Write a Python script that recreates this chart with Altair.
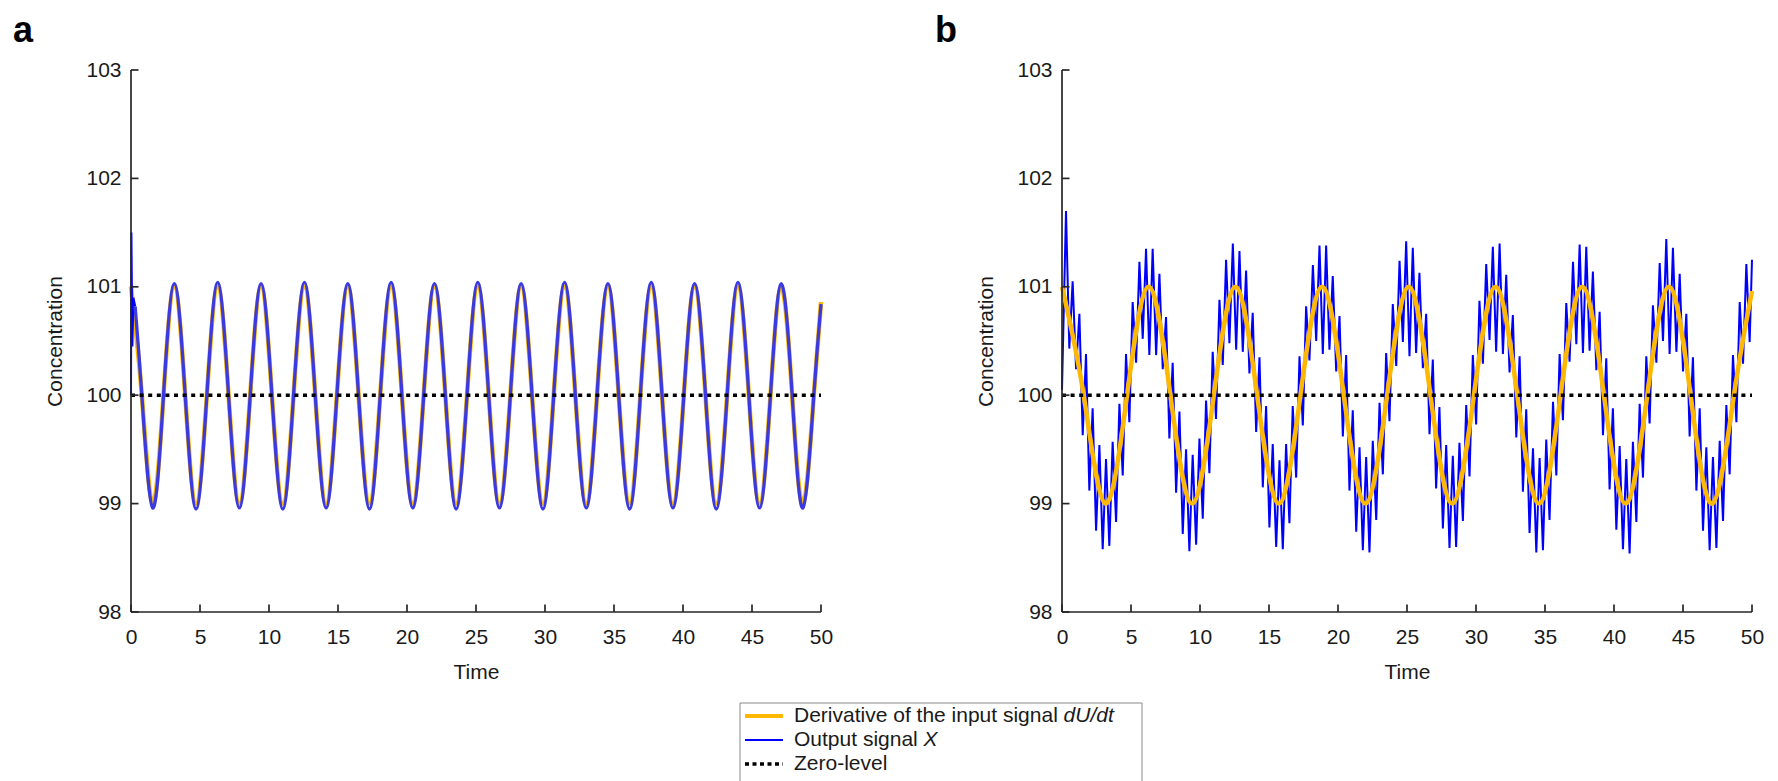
import altair as alt
import pandas as pd

FONT = "Liberation Sans"
ORANGE = "#FFB800"
BLUE = "#0000FF"
BLUE_A = "#3a3ae0"

TIME_TICKS = [0, 5, 10, 15, 20, 25, 30, 35, 40, 45, 50]
CONC_TICKS = [98, 99, 100, 101, 102, 103]

ZERO_T = [0, 50]
ZERO_V = [100, 100]

# ---- panel a : derivative of the input (key points read at extrema / crossings)
A_DU_T = [0, 0.785, 1.571, 2.356, 3.142, 3.927, 4.712, 5.498, 6.283, 7.069, 7.854, 8.639,
          9.425, 10.21, 11.00, 11.78, 12.57, 13.35, 14.14, 14.92, 15.71, 16.49, 17.28, 18.06,
          18.85, 19.63, 20.42, 21.21, 21.99, 22.78, 23.56, 24.35, 25.13, 25.92, 26.70, 27.49,
          28.27, 29.06, 29.85, 30.63, 31.42, 32.20, 32.99, 33.77, 34.56, 35.34, 36.13, 36.91,
          37.70, 38.48, 39.27, 40.06, 40.84, 41.63, 42.41, 43.20, 43.98, 44.77, 45.55, 46.34,
          47.12, 47.91, 48.69, 49.48, 50.0]
A_DU = [101, 100, 99, 100, 101, 100, 99, 100, 101, 100, 99, 100, 101, 100, 99, 100,
        101, 100, 99, 100, 101, 100, 99, 100, 101, 100, 99, 100, 101, 100, 99, 100,
        101, 100, 99, 100, 101, 100, 99, 100, 101, 100, 99, 100, 101, 100, 99, 100,
        101, 100, 99, 100, 101, 100, 99, 100, 101, 100, 99, 100, 101, 100, 99, 100,
        100.86]

# panel a : output X (start transient + main band)
A_X0_T = [0, 0.03, 0.10, 0.18, 0.30]
A_X0 = [100.0, 101.5, 100.45, 100.9, 100.82]
A_X_T = [0.30, 0.785, 1.571, 2.356, 3.142, 3.927, 4.712, 5.498, 6.283, 7.069, 7.854, 8.639,
         9.425, 10.21, 11.00, 11.78, 12.57, 13.35, 14.14, 14.92, 15.71, 16.49, 17.28, 18.06,
         18.85, 19.63, 20.42, 21.21, 21.99, 22.78, 23.56, 24.35, 25.13, 25.92, 26.70, 27.49,
         28.27, 29.06, 29.85, 30.63, 31.42, 32.20, 32.99, 33.77, 34.56, 35.34, 36.13, 36.91,
         37.70, 38.48, 39.27, 40.06, 40.84, 41.63, 42.41, 43.20, 43.98, 44.77, 45.55, 46.34,
         47.12, 47.91, 48.69, 49.48, 50.0]
A_X = [100.82, 100, 98.96, 100, 101.03, 100, 98.95, 100, 101.04, 100, 98.96, 100, 101.03, 100, 98.95, 100,
       101.04, 100, 98.96, 100, 101.03, 100, 98.95, 100, 101.04, 100, 98.96, 100, 101.03, 100, 98.95, 100,
       101.04, 100, 98.96, 100, 101.03, 100, 98.95, 100, 101.04, 100, 98.96, 100, 101.03, 100, 98.95, 100,
       101.04, 100, 98.96, 100, 101.03, 100, 98.95, 100, 101.04, 100, 98.96, 100, 101.03, 100, 98.96, 100,
       100.84]

# ---- panel b : derivative of the input
B_DU_T = [0, 1.571, 3.142, 4.712, 6.283, 7.854, 9.425, 11.00, 12.57, 14.14, 15.71, 17.28,
          18.85, 20.42, 21.99, 23.56, 25.13, 26.70, 28.27, 29.85, 31.42, 32.99, 34.56, 36.13,
          37.70, 39.27, 40.84, 42.41, 43.98, 45.55, 47.12, 48.69, 50.0]
B_DU = [101, 100, 99, 100, 101, 100, 99, 100, 101, 100, 99, 100, 101, 100, 99, 100,
        101, 100, 99, 100, 101, 100, 99, 100, 101, 100, 99, 100, 101, 100, 99, 100,
        100.96]

# panel b : output X (spike extrema)
B_X_T = [0,
         0.29, 0.53, 0.77, 1.02, 1.26, 1.50, 1.74, 1.98, 2.22, 2.47, 2.71, 2.95, 3.19, 3.43, 3.67, 3.92, 4.16, 4.40, 4.64, 4.88, 5.12, 5.37, 5.61, 5.85, 6.09, 6.33,
         6.57, 6.82, 7.06, 7.30, 7.54, 7.78, 8.02, 8.27, 8.51, 8.75, 8.99, 9.23, 9.47, 9.72, 9.96, 10.20, 10.44, 10.68, 10.92, 11.16, 11.41, 11.65, 11.89, 12.13, 12.38, 12.62,
         12.86, 13.10, 13.34, 13.58, 13.82, 14.07, 14.31, 14.55, 14.79, 15.03, 15.27, 15.52, 15.76, 16.00, 16.24, 16.48, 16.72, 16.97, 17.21, 17.45, 17.69, 17.93, 18.18, 18.42, 18.66, 18.90,
         19.14, 19.38, 19.62, 19.87, 20.11, 20.35, 20.59, 20.83, 21.07, 21.32, 21.56, 21.80, 22.04, 22.28, 22.52, 22.77, 23.01, 23.25, 23.49, 23.73, 23.97, 24.22, 24.46, 24.70, 24.94, 25.18,
         25.42, 25.66, 25.90, 26.15, 26.39, 26.63, 26.87, 27.11, 27.35, 27.60, 27.84, 28.08, 28.32, 28.56, 28.80, 29.05, 29.29, 29.53, 29.77, 30.01, 30.25, 30.50, 30.74, 30.98, 31.22, 31.46,
         31.71, 31.95, 32.19, 32.43, 32.67, 32.92, 33.16, 33.40, 33.64, 33.88, 34.13, 34.37, 34.61, 34.85, 35.09, 35.33, 35.58, 35.82, 36.06, 36.30, 36.54, 36.78, 37.03, 37.27, 37.51, 37.75,
         37.99, 38.23, 38.47, 38.72, 38.96, 39.20, 39.44, 39.68, 39.92, 40.17, 40.41, 40.65, 40.89, 41.13, 41.37, 41.62, 41.86, 42.10, 42.34, 42.58, 42.82, 43.07, 43.31, 43.55, 43.79, 44.03,
         44.27, 44.52, 44.76, 45.00, 45.24, 45.48, 45.72, 45.97, 46.21, 46.45, 46.69, 46.93, 47.17, 47.42, 47.66, 47.90, 48.14, 48.38, 48.62, 48.87, 49.11, 49.35, 49.59, 49.83,
         50.0]
B_X = [100.05,
       101.70, 100.43, 101.05, 100.24, 100.75, 99.63, 100.38, 99.12, 99.88, 98.75, 99.54, 98.58, 99.41, 98.61, 99.57, 98.83, 99.92, 99.26, 100.38, 99.75, 100.86, 100.30, 101.23, 100.52, 101.35, 100.37,
       101.35, 100.37, 101.12, 100.24, 100.72, 99.60, 100.30, 99.10, 99.85, 98.72, 99.50, 98.56, 99.45, 98.62, 99.60, 98.86, 99.95, 99.28, 100.40, 99.78, 100.88, 100.28, 101.25, 100.48, 101.40, 100.42,
       101.33, 100.40, 101.15, 100.20, 100.76, 99.66, 100.35, 99.15, 99.90, 98.78, 99.55, 98.60, 99.40, 98.58, 99.55, 98.82, 99.90, 99.24, 100.36, 99.72, 100.82, 100.32, 101.20, 100.50, 101.38, 100.38,
       101.38, 100.42, 101.10, 100.22, 100.73, 99.62, 100.37, 99.12, 99.86, 98.74, 99.52, 98.57, 99.43, 98.55, 99.58, 98.85, 99.93, 99.27, 100.39, 99.76, 100.84, 100.27, 101.24, 100.49, 101.42, 100.36,
       101.36, 100.39, 101.13, 100.25, 100.75, 99.64, 100.33, 99.14, 99.89, 98.77, 99.54, 98.59, 99.44, 98.60, 99.56, 98.84, 99.91, 99.25, 100.37, 99.73, 100.87, 100.29, 101.21, 100.51, 101.37, 100.40,
       101.40, 100.38, 101.11, 100.21, 100.74, 99.61, 100.36, 99.11, 99.87, 98.73, 99.51, 98.55, 99.42, 98.57, 99.59, 98.85, 99.94, 99.26, 100.38, 99.77, 100.85, 100.31, 101.23, 100.47, 101.39, 100.39,
       101.37, 100.41, 101.14, 100.23, 100.77, 99.63, 100.34, 99.13, 99.88, 98.76, 99.53, 98.58, 99.41, 98.54, 99.57, 98.83, 99.92, 99.24, 100.36, 99.74, 100.83, 100.30, 101.22, 100.50, 101.44, 100.38,
       101.36, 100.40, 101.12, 100.22, 100.75, 99.62, 100.35, 99.12, 99.88, 98.75, 99.52, 98.57, 99.43, 98.59, 99.58, 98.84, 99.91, 99.27, 100.37, 99.75, 100.86, 100.29, 101.21, 100.49,
       101.25]

LEGEND_TEXT = ["Derivative of the input signal ", "Output signal ", "Zero-level"]
LEGEND_ITALIC = ["dU/dt", "X", ""]
PANEL_LETTERS = ["a", "b"]

W, H = 690, 542
AXIS_COLOR = "#262626"
TICK_LEN = 7.5


def x_axis():
    return alt.Axis(values=TIME_TICKS, title="Time", format="d", domain=False, grid=False,
                    ticks=False, tickSize=0, labelPadding=14, titlePadding=14,
                    labelFlush=False, labelOverlap=False)


def y_axis():
    return alt.Axis(values=CONC_TICKS, title="Concentration", format="d", domain=False, grid=False,
                    ticks=False, tickSize=0, labelPadding=10, titlePadding=20,
                    labelFlush=False, labelOverlap=False)


XS = alt.Scale(domain=[0, 50], nice=False, zero=False)
YS = alt.Scale(domain=[98, 103], nice=False, zero=False)


def enc():
    return dict(x=alt.X("t:Q", scale=XS, axis=x_axis()), y=alt.Y("v:Q", scale=YS, axis=y_axis()))


one = pd.DataFrame({"k": [0]})


def frame_layers():
    left = alt.Chart(one).mark_rule(color=AXIS_COLOR, strokeWidth=1.7).encode(
        x=alt.value(0), y=alt.value(0), y2=alt.value(H))
    bottom = alt.Chart(one).mark_rule(color=AXIS_COLOR, strokeWidth=1.7).encode(
        x=alt.value(0), x2=alt.value(W), y=alt.value(H))
    xt = alt.Chart(pd.DataFrame({"t": TIME_TICKS})).mark_rule(color=AXIS_COLOR, strokeWidth=1.7).encode(
        x=alt.X("t:Q", scale=XS, axis=x_axis()), y=alt.value(H), y2=alt.value(H - TICK_LEN))
    yt = alt.Chart(pd.DataFrame({"v": CONC_TICKS})).mark_rule(color=AXIS_COLOR, strokeWidth=1.7).encode(
        y=alt.Y("v:Q", scale=YS, axis=y_axis()), x=alt.value(0), x2=alt.value(TICK_LEN))
    return [left, bottom, xt, yt]


def line(ts, vs, **kw):
    return alt.Chart(pd.DataFrame({"t": ts, "v": vs})).mark_line(**kw).encode(**enc())


def letter_layer(letter, dx):
    return alt.Chart(one).mark_text(align="left", baseline="alphabetic", font=FONT, fontSize=36,
                                    fontWeight="bold", color="black").encode(
        x=alt.value(dx), y=alt.value(-28), text=alt.value(letter))


def legend_layers():
    x0, x1 = 609, 1011
    y0, y1 = 633, 712
    rows = [646, 670, 694]
    lx0, lx1, tx = 614, 652, 663
    layers = [alt.Chart(one).mark_rect(fill="white", stroke="#8a8a8a", strokeWidth=1).encode(
        x=alt.value(x0), x2=alt.value(x1), y=alt.value(y0), y2=alt.value(y1))]
    styles = [dict(color=ORANGE, strokeWidth=4),
              dict(color=BLUE, strokeWidth=2),
              dict(color="black", strokeWidth=3.5, strokeDash=[4, 3.5])]
    widths = [269.6, 129.6, 0]
    for i, ry in enumerate(rows):
        layers.append(alt.Chart(one).mark_rule(**styles[i]).encode(
            x=alt.value(lx0), x2=alt.value(lx1), y=alt.value(ry)))
        layers.append(alt.Chart(one).mark_text(align="left", baseline="middle", font=FONT,
                                               fontSize=21, color="#1a1a1a").encode(
            x=alt.value(tx), y=alt.value(ry), text=alt.value(LEGEND_TEXT[i])))
        if LEGEND_ITALIC[i]:
            layers.append(alt.Chart(one).mark_text(align="left", baseline="middle", font=FONT,
                                                   fontSize=21, fontStyle="italic", color="#1a1a1a").encode(
                x=alt.value(tx + widths[i]), y=alt.value(ry), text=alt.value(LEGEND_ITALIC[i])))
    return layers


zero_kw = dict(color="black", strokeWidth=3.5, strokeDash=[4, 4.6])

panel_a = alt.layer(
    line(A_DU_T, A_DU, color=ORANGE, strokeWidth=4.5, interpolate="natural"),
    line(A_X0_T, A_X0, color=BLUE, strokeWidth=2),
    line(A_X_T, A_X, color=BLUE_A, strokeWidth=3.3, interpolate="natural"),
    line(ZERO_T, ZERO_V, **zero_kw),
    *frame_layers(),
    letter_layer(PANEL_LETTERS[0], -118),
    *legend_layers(),
).properties(width=W, height=H)

panel_b = alt.layer(
    line(B_X_T, B_X, color=BLUE, strokeWidth=2),
    line(B_DU_T, B_DU, color=ORANGE, strokeWidth=4.5, interpolate="natural"),
    line(ZERO_T, ZERO_V, **zero_kw),
    *frame_layers(),
    letter_layer(PANEL_LETTERS[1], -127),
).properties(width=W, height=H)

chart = alt.hconcat(panel_a, panel_b, spacing=241, bounds="flush").properties(
    padding={"left": 5, "top": 5, "right": 5, "bottom": 0}
).configure_view(stroke=None).configure_axis(
    labelFont=FONT, labelFontSize=21, labelColor="#1a1a1a",
    titleFont=FONT, titleFontSize=21, titleFontWeight="normal", titleColor="#1a1a1a",
)

chart.save("out.html", embed_options={"renderer": "svg", "actions": False})
